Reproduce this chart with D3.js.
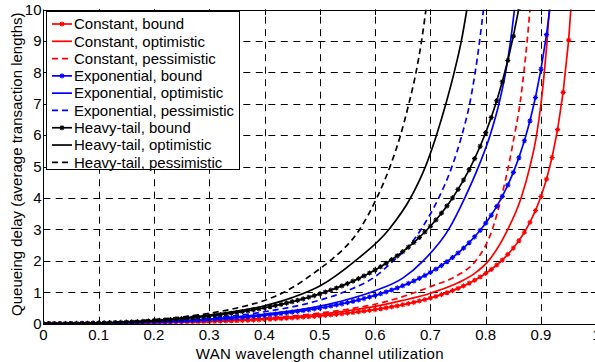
<!DOCTYPE html>
<html>
<head>
<meta charset="utf-8">
<script src="https://cdn.jsdelivr.net/npm/d3@7"></script>
<style>
  html, body { margin: 0; padding: 0; background: #fff; }
  svg { display: block; }
  text { font-family: "Liberation Sans", Arial, Helvetica, sans-serif; fill: #000; }
</style>
</head>
<body>
<svg id="chart" width="595" height="362"></svg>
<script>
// Utilization grid shared by the three "bound" curves (marker at every point)
const utilization = [0,0.01,0.02,0.03,0.04,0.05,0.06,0.07,0.08,0.09,0.1,0.11,0.12,0.13,0.14,0.15,0.16,0.17,0.18,0.19,
  0.2,0.21,0.22,0.23,0.24,0.25,0.26,0.27,0.28,0.29,0.3,0.31,0.32,0.33,0.34,0.35,0.36,0.37,0.38,0.39,
  0.4,0.41,0.42,0.43,0.44,0.45,0.46,0.47,0.48,0.49,0.5,0.51,0.52,0.53,0.54,0.55,0.56,0.57,0.58,0.59,
  0.6,0.61,0.62,0.63,0.64,0.65,0.66,0.67,0.68,0.69,0.7,0.71,0.72,0.73,0.74,0.75,0.76,0.77,0.78,0.79,
  0.8,0.81,0.82,0.83,0.84,0.85,0.86,0.87,0.88,0.89,0.9,0.91,0.92,0.93,0.94,0.95,0.96];

const constantBound = [0,0.0001,0.0002,0.0005,0.0008,0.0013,0.0019,0.0026,0.0035,0.0045,
  0.0056,0.0068,0.0082,0.0097,0.0114,0.0132,0.0152,0.0174,0.0198,0.0223,
  0.025,0.0279,0.031,0.0344,0.0379,0.0417,0.0457,0.05,0.0544,0.0592,
  0.0643,0.0696,0.0753,0.0813,0.0876,0.0942,0.1013,0.1086,0.1164,0.1246,
  0.1333,0.1424,0.152,0.1622,0.1729,0.1841,0.196,0.2084,0.2216,0.2354,
  0.25,0.2654,0.2817,0.2988,0.317,0.3361,0.3564,0.3778,0.4005,0.4245,
  0.45,0.4771,0.5058,0.5364,0.5689,0.6036,0.6406,0.6802,0.7225,0.7679,
  0.8167,0.8691,0.9257,0.9869,1.0531,1.125,1.2033,1.2889,1.3827,1.486,
  1.6,1.7266,1.8678,2.0262,2.205,2.4083,2.6414,2.9112,3.2267,3.6005,
  4.05,4.6006,5.29,6.178,7.3635,9.025,11.52];

const exponentialBound = [0,0.0001,0.0004,0.0009,0.0017,0.0026,0.0038,0.0053,0.007,0.0089,
  0.0111,0.0136,0.0164,0.0194,0.0228,0.0265,0.0305,0.0348,0.0395,0.0446,
  0.05,0.0558,0.0621,0.0687,0.0758,0.0833,0.0914,0.0999,0.1089,0.1185,
  0.1286,0.1393,0.1506,0.1625,0.1752,0.1885,0.2025,0.2173,0.2329,0.2493,
  0.2667,0.2849,0.3041,0.3244,0.3457,0.3682,0.3919,0.4168,0.4431,0.4708,
  0.5,0.5308,0.5633,0.5977,0.6339,0.6722,0.7127,0.7556,0.801,0.849,
  0.9,0.9541,1.0116,1.0727,1.1378,1.2071,1.2812,1.3603,1.445,1.5358,
  1.6333,1.7383,1.8514,1.9737,2.1062,2.25,2.4067,2.5778,2.7655,2.9719,
  3.2,3.4532,3.7356,4.0524,4.41,4.8167,5.2829,5.8223,6.4533,7.2009,
  8.1,9.2011,10.58];

const heavyTailBound = [0,0.0002,0.0008,0.0018,0.0032,0.005,0.0073,0.01,0.0132,0.0169,
  0.0211,0.0258,0.0311,0.0369,0.0433,0.0503,0.0579,0.0661,0.0751,0.0847,
  0.095,0.106,0.118,0.1305,0.144,0.1583,0.1737,0.1898,0.2069,0.2252,
  0.2443,0.2647,0.2861,0.3088,0.3329,0.3582,0.3848,0.4129,0.4425,0.4737,
  0.5067,0.5413,0.5778,0.6164,0.6568,0.6996,0.7446,0.7919,0.8419,0.8945,
  0.95,1.0085,1.0703,1.1356,1.2044,1.2772,1.3541,1.4356,1.5219,1.6131,
  1.71,1.8128,1.922,2.0381,2.1618,2.2935,2.4343,2.5846,2.7455,2.918,
  3.1033,3.3028,3.5177,3.75,4.0018,4.275,4.5727,4.8978,5.2545,5.6466,
  6.08,6.5611,7.0976,7.6996,8.379,9.1517,10.0375,11.0624];

// Optimistic / pessimistic estimates (utilization, delay)
const constantOptimisticX = [0,0.1,0.2,0.3,0.4,0.5,0.55,0.6,0.65,0.7,0.75,0.78,0.805,0.84,0.864,0.88,0.892,0.9,0.906,0.911,0.915];
const constantOptimisticY = [0,0.005,0.03,0.077,0.16,0.3,0.41,0.55,0.74,0.97,1.3,1.6,2,3,4,5,6,7,8,9,10];

const constantPessimisticX = [0,0.1,0.2,0.3,0.4,0.5,0.55,0.6,0.65,0.7,0.75,0.782,0.812,0.828,0.841,0.852,0.862,0.869,0.875,0.88];
const constantPessimisticY = [0,0.007,0.034,0.087,0.18,0.34,0.46,0.62,0.86,1.18,1.55,2,3,4,5,6,7,8,9,10];

const exponentialOptimisticX = [0,0.1,0.2,0.3,0.4,0.5,0.55,0.6,0.65,0.687,0.733,0.762,0.787,0.808,0.824,0.836,0.845,0.852];
const exponentialOptimisticY = [0,0.0125,0.056,0.145,0.3,0.56,0.77,1.05,1.45,2,3,4,5,6,7,8,9,10];

const exponentialPessimisticX = [0,0.1,0.2,0.3,0.4,0.5,0.55,0.6,0.633,0.66,0.683,0.715,0.739,0.757,0.771,0.781,0.789,0.796];
const exponentialPessimisticY = [0,0.016,0.07,0.18,0.38,0.75,1.05,1.5,2,2.45,3,4,5,6,7,8,9,10];

const heavyTailOptimisticX = [0,0.1,0.2,0.3,0.4,0.45,0.5,0.564,0.625,0.664,0.691,0.711,0.728,0.743,0.756,0.766];
const heavyTailOptimisticY = [0,0.02,0.1,0.27,0.57,0.83,1.2,2,3,4,5,6,7,8,9,10];

const heavyTailPessimisticX = [0,0.1,0.2,0.3,0.35,0.4,0.435,0.5,0.522,0.572,0.603,0.627,0.646,0.661,0.674,0.684,0.692];
const heavyTailPessimisticY = [0,0.028,0.13,0.33,0.5,0.74,1,1.75,2.05,3,4,5,6,7,8,9,10];

// Axis ticks
const xTicks = [0,0.1,0.2,0.3,0.4,0.5,0.6,0.7,0.8,0.9,1];
const xTickLabels = ["0","0.1","0.2","0.3","0.4","0.5","0.6","0.7","0.8","0.9","1"];
const yTicks = [0,1,2,3,4,5,6,7,8,9,10];
const yTickLabels = ["0","1","2","3","4","5","6","7","8","9","10"];

const xTitle = "WAN wavelength channel utilization";
const yTitle = "Queueing delay (average transaction lengths)";

const RED = "#ff0000", BLUE = "#0000ff", BLACK = "#000000";
const series = [
  { name: "Constant, bound",          color: RED,   dash: null,  marker: true,  x: utilization, y: constantBound },
  { name: "Constant, optimistic",     color: RED,   dash: null,  marker: false, x: constantOptimisticX, y: constantOptimisticY },
  { name: "Constant, pessimistic",    color: RED,   dash: "6,4", marker: false, x: constantPessimisticX, y: constantPessimisticY },
  { name: "Exponential, bound",       color: BLUE,  dash: null,  marker: true,  x: utilization, y: exponentialBound },
  { name: "Exponential, optimistic",  color: BLUE,  dash: null,  marker: false, x: exponentialOptimisticX, y: exponentialOptimisticY },
  { name: "Exponential, pessimistic", color: BLUE,  dash: "6,4", marker: false, x: exponentialPessimisticX, y: exponentialPessimisticY },
  { name: "Heavy-tail, bound",        color: BLACK, dash: null,  marker: true,  x: utilization, y: heavyTailBound },
  { name: "Heavy-tail, optimistic",   color: BLACK, dash: null,  marker: false, x: heavyTailOptimisticX, y: heavyTailOptimisticY },
  { name: "Heavy-tail, pessimistic",  color: BLACK, dash: "6,4", marker: false, x: heavyTailPessimisticX, y: heavyTailPessimisticY }
];

// Layout
const plot = { left: 43.3, top: 9.5, width: 553, height: 314.2 };
const svg = d3.select("#chart");
const x = d3.scaleLinear().domain([0, 1]).range([plot.left, plot.left + plot.width]);
const y = d3.scaleLinear().domain([0, 10]).range([plot.top + plot.height, plot.top]);
const x0 = x(0), x1 = x(1), yb = y(0), yt = y(10);
const crisp = v => Math.round(v) + 0.5;

// Dashed grid
const grid = svg.append("g").attr("stroke", "#000").attr("stroke-width", 1)
  .attr("stroke-dasharray", "7,5.5").attr("fill", "none");
xTicks.filter(t => t > 0 && t < 1).forEach(t => {
  grid.append("line").attr("x1", crisp(x(t))).attr("x2", crisp(x(t))).attr("y1", yb).attr("y2", yt);
});
yTicks.filter(t => t > 0 && t < 10).forEach(t => {
  grid.append("line").attr("x1", x0).attr("x2", x1).attr("y1", crisp(y(t))).attr("y2", crisp(y(t)));
});

// Clip region for the curves
svg.append("defs").append("clipPath").attr("id", "plotClip")
  .append("rect").attr("x", x0).attr("y", yt).attr("width", x1 - x0).attr("height", yb - yt);

const curves = svg.append("g").attr("clip-path", "url(#plotClip)");
const markerPath = "M-2.6,0H2.6M0,-2.6V2.6M-1.8,-1.8L1.8,1.8M-1.8,1.8L1.8,-1.8";

series.forEach(s => {
  const line = d3.line()
    .x((d, i) => x(s.x[i]))
    .y(d => y(d))
    .curve(s.marker ? d3.curveLinear : d3.curveMonotoneX);
  curves.append("path")
    .attr("d", line(s.y))
    .attr("fill", "none")
    .attr("stroke", s.color)
    .attr("stroke-width", 1.7)
    .attr("stroke-dasharray", s.dash);
  if (s.marker) {
    curves.append("g").selectAll("path")
      .data(s.y)
      .join("path")
      .attr("transform", (d, i) => `translate(${x(s.x[i])},${y(d)})`)
      .attr("d", markerPath)
      .attr("fill", "none")
      .attr("stroke", s.color)
      .attr("stroke-width", 1.1);
  }
});

// Axes box and inward ticks
const axes = svg.append("g").attr("stroke", "#000").attr("stroke-width", 1).attr("fill", "none");
axes.append("rect").attr("x", crisp(x0)).attr("y", crisp(yt)).attr("width", x1 - x0).attr("height", crisp(yb) - crisp(yt));
xTicks.forEach(t => {
  axes.append("line").attr("x1", crisp(x(t))).attr("x2", crisp(x(t))).attr("y1", yb).attr("y2", yb - 5.5);
  axes.append("line").attr("x1", crisp(x(t))).attr("x2", crisp(x(t))).attr("y1", yt).attr("y2", yt + 5.5);
});
yTicks.forEach(t => {
  axes.append("line").attr("x1", x0).attr("x2", x0 + 5.5).attr("y1", crisp(y(t))).attr("y2", crisp(y(t)));
  axes.append("line").attr("x1", x1).attr("x2", x1 - 5.5).attr("y1", crisp(y(t))).attr("y2", crisp(y(t)));
});

// Tick labels
const labels = svg.append("g").attr("font-size", 15);
xTicks.forEach((t, i) => {
  labels.append("text").attr("x", x(t)).attr("y", 340).attr("text-anchor", "middle").text(xTickLabels[i]);
});
yTicks.forEach((t, i) => {
  labels.append("text").attr("x", 41.5).attr("y", y(t) + 5.3).attr("text-anchor", "end").text(yTickLabels[i]);
});

// Axis titles
svg.append("text").attr("x", x(0.5)).attr("y", 358.5).attr("text-anchor", "middle")
  .attr("font-size", 15).attr("letter-spacing", 0.3).text(xTitle);
svg.append("text").attr("transform", "translate(21.5,164.2) rotate(-90)")
  .attr("text-anchor", "middle").attr("font-size", 15).text(yTitle);

// Legend
const legend = svg.append("g");
legend.append("rect").attr("x", 46.5).attr("y", 11.5).attr("width", 193).attr("height", 158)
  .attr("fill", "#fff").attr("stroke", "#000").attr("stroke-width", 1);
series.forEach((s, i) => {
  const cy = 24 + i * 17.29;
  legend.append("line").attr("x1", 52).attr("x2", 72).attr("y1", cy).attr("y2", cy)
    .attr("stroke", s.color).attr("stroke-width", 1.7).attr("stroke-dasharray", s.dash);
  if (s.marker) {
    legend.append("path").attr("transform", `translate(62,${cy})`).attr("d", markerPath)
      .attr("fill", "none").attr("stroke", s.color).attr("stroke-width", 1.1);
  }
  legend.append("text").attr("x", 74).attr("y", cy + 5.3).attr("font-size", 15).text(s.name);
});
</script>
</body>
</html>
